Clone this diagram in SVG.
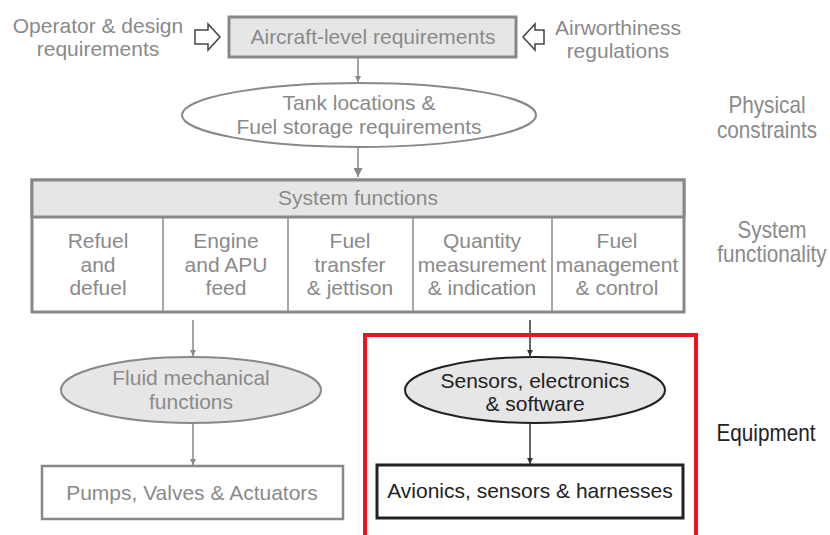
<svg xmlns="http://www.w3.org/2000/svg" width="830" height="535" viewBox="0 0 830 535">
<defs>
<style>
text{font-family:"Liberation Sans",Arial,sans-serif;font-size:21px;text-anchor:middle;fill:#8a8a8a}
.dk{fill:#222}
.side{font-size:23px}
.gbox{fill:#e6e6e6;stroke:#888;stroke-width:3}
.wbox{fill:#fff;stroke:#888;stroke-width:2.5}
.con{stroke:#888;stroke-width:1.5;fill:none}
.conk{stroke:#333;stroke-width:1.5;fill:none}
.hollow{fill:#fff;stroke:#444;stroke-width:1.5;stroke-linejoin:miter}
</style>
<marker id="ah" viewBox="0 0 10 10" refX="10" refY="5" markerWidth="6" markerHeight="6" orient="auto" markerUnits="userSpaceOnUse"><path d="M0,0 L10,5 L0,10 z" fill="#888"/></marker>
<marker id="ahk" viewBox="0 0 10 10" refX="10" refY="5" markerWidth="6" markerHeight="6" orient="auto" markerUnits="userSpaceOnUse"><path d="M0,0 L10,5 L0,10 z" fill="#333"/></marker>
<marker id="ahb" viewBox="0 0 10 10" refX="10" refY="5" markerWidth="9" markerHeight="9" orient="auto" markerUnits="userSpaceOnUse"><path d="M0,0 L10,5 L0,10 z" fill="#888"/></marker>
</defs>

<g id="connectors">
<line class="con" x1="358" y1="58" x2="358" y2="82" marker-end="url(#ah)"/>
<line class="con" x1="358" y1="148" x2="358" y2="177" stroke-width="3" marker-end="url(#ahb)"/>
<line class="con" x1="193" y1="320" x2="193" y2="356" marker-end="url(#ah)"/>
<line class="con" x1="193" y1="423" x2="193" y2="465" marker-end="url(#ah)"/>
<line class="conk" x1="530" y1="320" x2="530" y2="356" marker-end="url(#ahk)"/>
<line class="conk" x1="530" y1="423" x2="530" y2="464" marker-end="url(#ahk)"/>
<path class="hollow" d="M195,30 L208,30 L208,24 L220,37 L208,50 L208,44 L195,44 Z"/>
<path class="hollow" d="M544,30 L535,30 L535,24 L523,37 L535,50 L535,44 L544,44 Z"/>
</g>

<g id="operator">
<text x="98" y="33">Operator &amp; design</text>
<text x="98" y="56">requirements</text>
</g>
<g id="airworthiness">
<text x="618" y="35">Airworthiness</text>
<text x="618" y="58">regulations</text>
</g>
<g id="aircraft">
<rect class="gbox" x="229" y="17" width="287" height="40"/>
<text x="373" y="44">Aircraft-level requirements</text>
</g>
<g id="tank">
<ellipse cx="359" cy="115" rx="177" ry="32" fill="#fff" stroke="#888" stroke-width="2"/>
<text x="359" y="110">Tank locations &amp;</text>
<text x="359" y="134">Fuel storage requirements</text>
</g>
<g id="system">
<rect x="32" y="180" width="652" height="132" fill="#fff" stroke="#888" stroke-width="3"/>
<rect x="32" y="180" width="652" height="37" fill="#e6e6e6" stroke="#888" stroke-width="3"/>
<line x1="163" y1="217" x2="163" y2="312" stroke="#888" stroke-width="1.5"/>
<line x1="288" y1="217" x2="288" y2="312" stroke="#888" stroke-width="1.5"/>
<line x1="413" y1="217" x2="413" y2="312" stroke="#888" stroke-width="1.5"/>
<line x1="552" y1="217" x2="552" y2="312" stroke="#888" stroke-width="1.5"/>
<text x="358" y="205">System functions</text>
<text x="98" y="248">Refuel</text><text x="98" y="272">and</text><text x="98" y="295">defuel</text>
<text x="226" y="248">Engine</text><text x="226" y="272">and APU</text><text x="226" y="295">feed</text>
<text x="350" y="248">Fuel</text><text x="350" y="272">transfer</text><text x="350" y="295">&amp; jettison</text>
<text x="482" y="248">Quantity</text><text x="482" y="272">measurement</text><text x="482" y="295">&amp; indication</text>
<text x="617" y="248">Fuel</text><text x="617" y="272">management</text><text x="617" y="295">&amp; control</text>
</g>
<g id="fluid">
<ellipse cx="191" cy="390" rx="130" ry="33" fill="#e6e6e6" stroke="#888" stroke-width="2"/>
<text x="191" y="385">Fluid mechanical</text>
<text x="191" y="409">functions</text>
</g>
<g id="pumps">
<rect class="wbox" x="42" y="466" width="301" height="53"/>
<text x="192" y="500">Pumps, Valves &amp; Actuators</text>
</g>
<g id="equipment-frame">
<rect x="365" y="335" width="331" height="210" fill="none" stroke="#e8141e" stroke-width="4"/>
</g>
<g id="sensors">
<ellipse cx="535" cy="390" rx="130" ry="33" fill="#e6e6e6" stroke="#222" stroke-width="2"/>
<text class="dk" x="535" y="388">Sensors, electronics</text>
<text class="dk" x="535" y="411">&amp; software</text>
</g>
<g id="avionics">
<rect x="377" y="465" width="306" height="53" fill="#fff" stroke="#222" stroke-width="3"/>
<text class="dk" x="530" y="498">Avionics, sensors &amp; harnesses</text>
</g>
<g id="labels">
<g transform="translate(767,0) scale(0.9,1)">
<text class="side" x="0" y="113">Physical</text>
<text class="side" x="0" y="138">constraints</text>
</g>
<g transform="translate(772,0) scale(0.9,1)">
<text class="side" x="0" y="238">System</text>
<text class="side" x="0" y="262">functionality</text>
</g>
<g transform="translate(766,0) scale(0.9,1)">
<text class="side dk" x="0" y="441">Equipment</text>
</g>
</g>
</svg>
